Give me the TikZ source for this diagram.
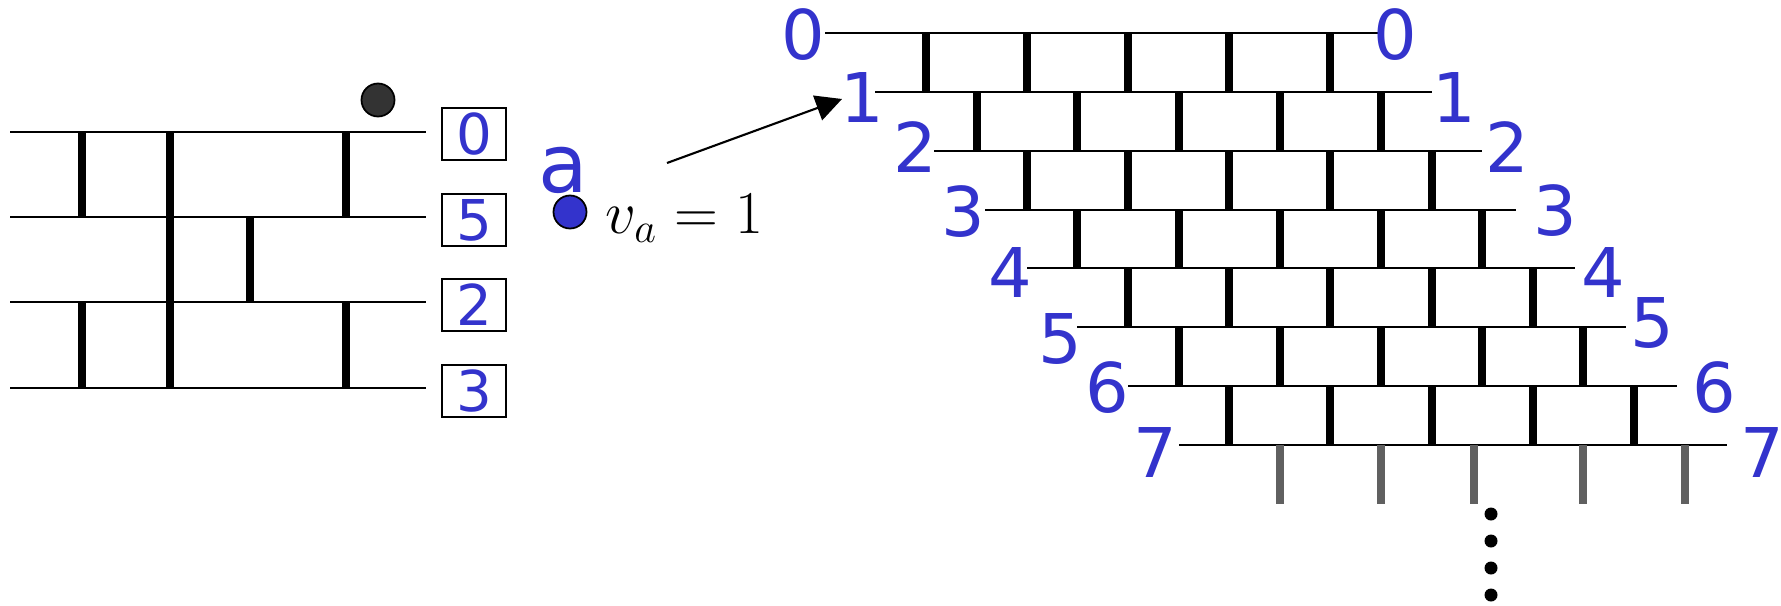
\documentclass[tikz,border=0pt]{standalone}
\usepackage{fontspec}
\setmainfont{DejaVu Sans}
\usetikzlibrary{arrows.meta}
\definecolor{azul}{RGB}{51,51,204}
\definecolor{gris}{RGB}{96,96,96}
\definecolor{oscuro}{RGB}{51,51,51}

\begin{document}
\begin{tikzpicture}[x=0.01cm, y=-0.01cm,
    linea/.style={line width=0.5pt},
    barra/.style={line width=2pt},
    num/.style={text=azul, inner sep=0pt, font=\fontsize{19.5}{20}\selectfont},
    caja/.style={draw, line width=0.5pt, minimum width=0.64cm, minimum height=0.52cm, inner sep=0pt, text=azul, font=\fontsize{16}{16}\selectfont},
    punto/.style={circle, draw, line width=0.5pt, minimum size=0.33cm, inner sep=0pt}]
    % Fijar los límites del gráfico
    \useasboundingbox (0,0) rectangle (1781,606);

    % Dibujar las líneas y barras de la izquierda
    \draw[linea] (10,132) -- (426,132) (10,217) -- (426,217) (10,302) -- (426,302) (10,388) -- (426,388);
    \draw[barra] (82,132) -- (82,217) (170,132) -- (170,388) (346,132) -- (346,217)
        (250,217) -- (250,302) (82,302) -- (82,388) (346,302) -- (346,388);

    % Punto oscuro y cajas con los valores
    \node[punto, fill=oscuro] (P) at (378,100) {};
    \node[caja] (B0) at (474,134) {0};
    \node[caja] (B1) at (474,220) {5};
    \node[caja] (B2) at (474,305) {2};
    \node[caja] (B3) at (474,391) {3};

    % Vértice a con su valor
    \node[text=azul, inner sep=0pt, font=\fontsize{23}{23}\selectfont] (A) at (563,170) {a};
    \node[punto, fill=azul] (V) at (570,212) {};
    \node[anchor=base west, inner sep=0pt, font=\fontsize{17}{17}\selectfont] (VA) at (605,233) {$v_a = 1$};

    % Dibujar la flecha
    \coordinate (S) at (667,163);
    \coordinate (T) at (842,99);
    \draw[-{Triangle[length=2.6mm, width=2.6mm]}, line width=0.6pt] (S) -- (T);

    % Dibujar las líneas de la derecha con sus etiquetas
    \draw[linea] (825,33) -- (1378,33);    \node[num] (L0) at (803,35) {0};   \node[num] (R0) at (1395,35) {0};
    \draw[linea] (875,92) -- (1432,92);    \node[num] (L1) at (862,98) {1};   \node[num] (R1) at (1454,98) {1};
    \draw[linea] (934,151) -- (1482,151);  \node[num] (L2) at (915,147) {2};  \node[num] (R2) at (1507,147) {2};
    \draw[linea] (985,210) -- (1516,210);  \node[num] (L3) at (963,212) {3};  \node[num] (R3) at (1555,211) {3};
    \draw[linea] (1027,268) -- (1575,268); \node[num] (L4) at (1010,273) {4}; \node[num] (R4) at (1603,273) {4};
    \draw[linea] (1077,327) -- (1626,327); \node[num] (L5) at (1060,339) {5}; \node[num] (R5) at (1652,323) {5};
    \draw[linea] (1128,386) -- (1677,386); \node[num] (L6) at (1107,388) {6}; \node[num] (R6) at (1714,388) {6};
    \draw[linea] (1179,445) -- (1727,445); \node[num] (L7) at (1155,452) {7}; \node[num] (R7) at (1762,452) {7};

    % Dibujar las barras de cada fila
    \draw[barra] (926,33) -- (926,92) (1027,33) -- (1027,92) (1128,33) -- (1128,92) (1229,33) -- (1229,92) (1330,33) -- (1330,92);
    \draw[barra] (977,92) -- (977,151) (1077,92) -- (1077,151) (1179,92) -- (1179,151) (1280,92) -- (1280,151) (1381,92) -- (1381,151);
    \draw[barra] (1027,151) -- (1027,210) (1128,151) -- (1128,210) (1229,151) -- (1229,210) (1330,151) -- (1330,210) (1432,151) -- (1432,210);
    \draw[barra] (1077,210) -- (1077,268) (1179,210) -- (1179,268) (1280,210) -- (1280,268) (1381,210) -- (1381,268) (1482,210) -- (1482,268);
    \draw[barra] (1128,268) -- (1128,327) (1229,268) -- (1229,327) (1330,268) -- (1330,327) (1432,268) -- (1432,327) (1533,268) -- (1533,327);
    \draw[barra] (1179,327) -- (1179,386) (1280,327) -- (1280,386) (1381,327) -- (1381,386) (1482,327) -- (1482,386) (1583,327) -- (1583,386);
    \draw[barra] (1229,386) -- (1229,445) (1330,386) -- (1330,445) (1432,386) -- (1432,445) (1533,386) -- (1533,445) (1634,386) -- (1634,445);
    \draw[barra, gris] (1280,445) -- (1280,504) (1381,445) -- (1381,504) (1474,445) -- (1474,504) (1583,445) -- (1583,504) (1685,445) -- (1685,504);

    % Puntos suspensivos
    \fill (1491,514) circle (0.065cm) (1491,541) circle (0.065cm) (1491,568) circle (0.065cm) (1491,595) circle (0.065cm);

\end{tikzpicture}
\end{document}
